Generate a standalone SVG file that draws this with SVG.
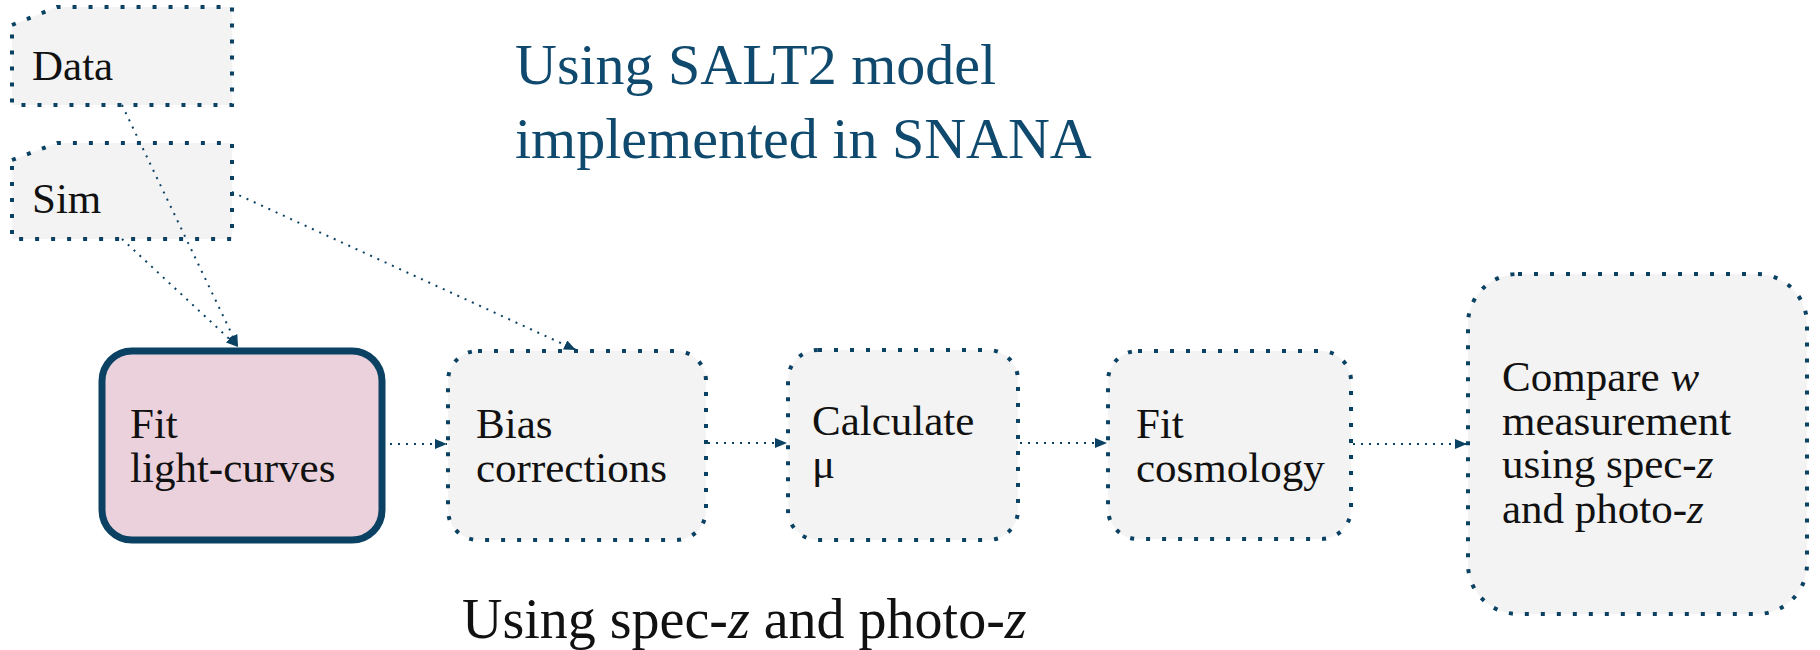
<svg xmlns="http://www.w3.org/2000/svg" width="1820" height="650" viewBox="0 0 1820 650">
<defs>
<marker id="arr" viewBox="0 0 12 10" refX="12" refY="5" markerWidth="12" markerHeight="10" markerUnits="userSpaceOnUse" orient="auto"><path d="M0,0 L12,5 L0,10 z" fill="#0b4263"/></marker>
</defs>
<style>
.box{fill:#f3f3f3;stroke:#0b4263;stroke-width:4;stroke-dasharray:4 12;}
.main{fill:#ead1dc;stroke:#0b4263;stroke-width:7;}
.lbl{font-family:"Liberation Serif",serif;font-size:43px;fill:#111;}
.title{font-family:"Liberation Serif",serif;font-size:58px;fill:#0f4a6e;}
.cap{font-family:"Liberation Serif",serif;font-size:56px;fill:#111;}
.it{font-style:italic;}
.conn{fill:none;stroke:#0b4263;stroke-width:2;stroke-dasharray:2 6;marker-end:url(#arr);}
</style>
<rect x="0" y="0" width="1820" height="650" fill="#ffffff"/>

<g id="title">
<text class="title" x="515" y="84">Using SALT2 model</text>
<text class="title" x="515" y="158">implemented in SNANA</text>
</g>
<g id="caption">
<text class="cap" x="462" y="638">Using spec-<tspan class="it">z</tspan> and photo-<tspan class="it">z</tspan></text>
</g>

<g id="node-data">
<path class="box" d="M12,25 L57,7 L232,7 L232,105 L12,105 Z"/>
<text class="lbl" x="32" y="80">Data</text>
</g>
<g id="node-sim">
<path class="box" d="M12,160 L57,143 L232,143 L232,239 L12,239 Z"/>
<text class="lbl" x="32" y="213">Sim</text>
</g>
<g id="node-fit">
<rect class="main" x="102" y="351" width="280" height="189" rx="30"/>
<text class="lbl" x="130" y="438">Fit</text>
<text class="lbl" x="130" y="482">light-curves</text>
</g>
<g id="node-bias">
<rect class="box" x="448" y="351" width="258" height="189" rx="30"/>
<text class="lbl" x="476" y="438">Bias</text>
<text class="lbl" x="476" y="482">corrections</text>
</g>
<g id="node-calc">
<rect class="box" x="788" y="350" width="230" height="190" rx="30"/>
<text class="lbl" x="812" y="435">Calculate</text>
<text class="lbl" x="812" y="478">μ</text>
</g>
<g id="node-cosmo">
<rect class="box" x="1108" y="351" width="243" height="188" rx="30"/>
<text class="lbl" x="1136" y="438">Fit</text>
<text class="lbl" x="1136" y="482">cosmology</text>
</g>
<g id="node-compare">
<rect class="box" x="1468" y="274" width="339" height="340" rx="50"/>
<text class="lbl" x="1502" y="391">Compare <tspan class="it">w</tspan></text>
<text class="lbl" x="1502" y="435">measurement</text>
<text class="lbl" x="1502" y="478">using spec-<tspan class="it">z</tspan></text>
<text class="lbl" x="1502" y="523">and photo-<tspan class="it">z</tspan></text>
</g>

<g id="connectors">
<line class="conn" x1="122" y1="105" x2="238" y2="347"/>
<line class="conn" x1="122" y1="239" x2="238" y2="347"/>
<line class="conn" x1="232" y1="192" x2="576" y2="350"/>
<line class="conn" x1="390" y1="444" x2="447" y2="444"/>
<line class="conn" x1="708" y1="443" x2="787" y2="443"/>
<line class="conn" x1="1020" y1="443" x2="1107" y2="443"/>
<line class="conn" x1="1353" y1="444" x2="1467" y2="444"/>
</g>
</svg>
